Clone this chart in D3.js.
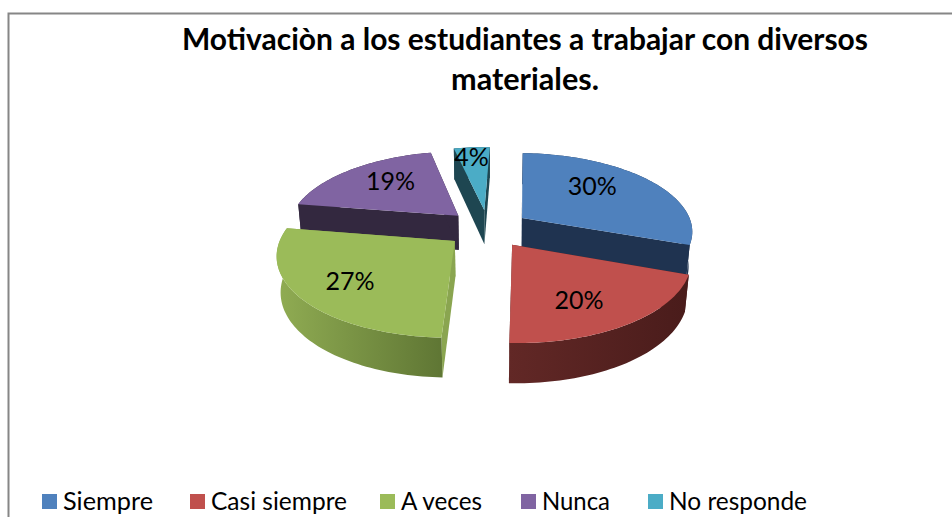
<!DOCTYPE html>
<html><head><meta charset="utf-8">
<script src="https://cdn.jsdelivr.net/npm/d3@7"></script>
<style>html,body{margin:0;padding:0;background:#fff;overflow:hidden}svg{display:block}text{font-family:Lato,"Open Sans",sans-serif;fill:#000}</style>
</head><body><svg id="c" width="952" height="517"></svg>
<script>
const categories = ["Siempre","Casi siempre","A veces","Nunca","No responde"];
const values = [30,20,27,19,4];
const titleLines = ["Motivaciòn a los estudiantes a trabajar con diversos","materiales."];
const colors = ["#4f81bd","#c0504d","#9bbb59","#8064a2","#4bacc6"];
const radialColors = ["#1f3350","#4d1e1d","#8aa550","#33283f","#1e4651"];
const wallFrom = ["#1f3350","#622826","#8fab52","#33283f","#1e4651"];
const wallTo = ["#1f3350","#4a1c1b","#5f7634","#33283f","#1e4651"];
const paintOrder = [4,3,0,2,1];
const legendX = [42,190,380,521,648];
const legendTextW = [90,136,81,68,138];
const labelRad = [.58,.68,.66,.58,.84];
const labelDx = [-5,-9,-7,-3,-2];
const labelDy = [-8,5,5,-6,2];

const svg = d3.select("#c");
const W=952,H=517;
svg.append("path").attr("d",`M8.5 ${H} V13.5 H${W}`).attr("fill","none").attr("stroke","#868686").attr("stroke-width",2);

svg.selectAll(".t").data(titleLines).join("text").attr("class","t")
 .attr("x",525).attr("y",(d,i)=>50+i*40).attr("text-anchor","middle")
 .attr("font-size",31).attr("font-weight",700).text(d=>d)
 .attr("textLength",(d,i)=>i?148:686).attr("lengthAdjust","spacingAndGlyphs");

// 3D projection
const cx=488,cy=228.5,R=171,expl=.245*R,H3=40,phi=Math.asin(.455),Dist=1000;
const startRot=2*Math.PI/180;
function proj(u,v,z){
  const yc=v*Math.sin(phi)-z*Math.cos(phi);
  const depth=Dist-v*Math.cos(phi)-z*Math.sin(phi);
  const s=Dist/depth;
  return [cx+s*u,cy+s*yc];
}
const pie=d3.pie().sort(null).value(d=>d).startAngle(startRot).endAngle(2*Math.PI+startRot);
const arcs=pie(values);
const defs=svg.append("defs");
const toPath=pts=>d3.line()(pts)+"Z";
const gPie=svg.append("g");
paintOrder.forEach(i=>{
  const a=arcs[i],mid=(a.startAngle+a.endAngle)/2;
  const ox=expl*Math.sin(mid),oy=-expl*Math.cos(mid);
  const pt=(th,r,z)=>proj(ox+r*Math.sin(th),oy-r*Math.cos(th),z);
  const n=Math.max(8,Math.round((a.endAngle-a.startAngle)*40));
  const ths=d3.range(n+1).map(k=>a.startAngle+(a.endAngle-a.startAngle)*k/n);
  const topEdge=ths.map(t=>pt(t,R,0)),botEdge=ths.map(t=>pt(t,R,-H3));
  const g=gPie.append("g");
  [a.startAngle,a.endAngle].forEach(t=>{
    g.append("path").attr("fill",radialColors[i])
     .attr("d",toPath([pt(t,0,0),pt(t,R,0),pt(t,R,-H3),pt(t,0,-H3)]));
  });
  const gid="w"+i;
  const xs=botEdge.map(p=>p[0]);
  const gr=defs.append("linearGradient").attr("id",gid).attr("gradientUnits","userSpaceOnUse")
    .attr("x1",d3.min(xs)).attr("x2",d3.max(xs)).attr("y1",0).attr("y2",0);
  gr.append("stop").attr("offset",0).attr("stop-color",wallFrom[i]);
  gr.append("stop").attr("offset",1).attr("stop-color",wallTo[i]);
  g.append("path").attr("fill",`url(#${gid})`).attr("d",toPath(topEdge.concat(botEdge.slice().reverse())));
  g.append("path").attr("fill",colors[i]).attr("d",toPath([pt(a.startAngle,0,0)].concat(topEdge)));
});
arcs.forEach((a,i)=>{
  const mid=(a.startAngle+a.endAngle)/2;
  const r=labelRad[i]*R+expl;
  const p=proj(r*Math.sin(mid),-r*Math.cos(mid),0);
  svg.append("text").attr("x",p[0]+labelDx[i]).attr("y",p[1]+8+labelDy[i]).attr("text-anchor","middle")
    .attr("font-size",25).text(values[i]+"%");
});
const leg=svg.selectAll(".l").data(categories).join("g").attr("class","l");
leg.append("rect").attr("x",(d,i)=>legendX[i]).attr("y",494).attr("width",15).attr("height",15).attr("fill",(d,i)=>colors[i]);
leg.append("text").attr("x",(d,i)=>legendX[i]+21).attr("y",510).attr("font-size",25).text(d=>d)
 .attr("textLength",(d,i)=>legendTextW[i]).attr("lengthAdjust","spacingAndGlyphs");
</script></body></html>
